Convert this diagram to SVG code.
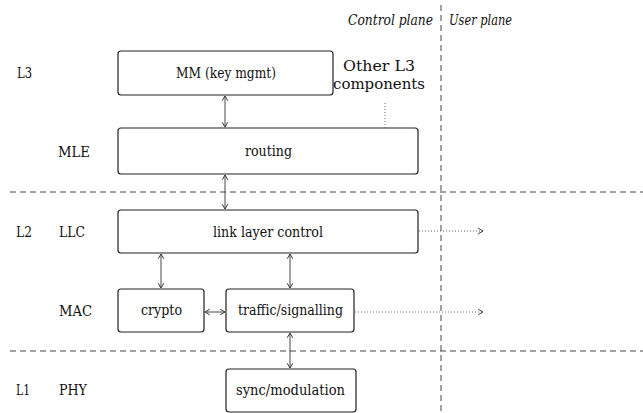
<svg xmlns="http://www.w3.org/2000/svg" width="643" height="413" viewBox="0 0 643 413">
<style>
text{font-family:'DejaVu Serif','Liberation Serif',serif;font-size:15.5px;fill:#111}
.box{fill:#fff;stroke:#222;stroke-width:1.2}
.sep{stroke:#444;stroke-width:1;stroke-dasharray:6,4;fill:none}
.ar{stroke:#333;stroke-width:0.9;fill:none;marker-start:url(#h);marker-end:url(#h)}
.dot{stroke:#555;stroke-width:0.9;fill:none;stroke-dasharray:1,2}
</style>
<defs>
<marker id="h" viewBox="0 0 10 10" refX="9" refY="5" markerWidth="8" markerHeight="8" markerUnits="userSpaceOnUse" orient="auto-start-reverse">
<path d="M3,1.5 L9,5 L3,8.5" fill="none" stroke="#333" stroke-width="1.2"/>
</marker>
</defs>
<g id="separators">
<line class="sep" x1="10" y1="192" x2="643" y2="192"/>
<line class="sep" x1="10" y1="351" x2="643" y2="351"/>
<line class="sep" x1="441" y1="5" x2="441" y2="413"/>
</g>
<g id="labels">
<text x="348" y="25" font-style="italic" textLength="85" lengthAdjust="spacingAndGlyphs">Control plane</text>
<text x="449" y="25" font-style="italic" textLength="63" lengthAdjust="spacingAndGlyphs">User plane</text>
<text x="17" y="78" textLength="15" lengthAdjust="spacingAndGlyphs">L3</text>
<text x="58" y="157" textLength="32" lengthAdjust="spacingAndGlyphs">MLE</text>
<text x="16" y="237" textLength="16" lengthAdjust="spacingAndGlyphs">L2</text>
<text x="59" y="237" textLength="26" lengthAdjust="spacingAndGlyphs">LLC</text>
<text x="59" y="316" textLength="33" lengthAdjust="spacingAndGlyphs">MAC</text>
<text x="16" y="395" textLength="14" lengthAdjust="spacingAndGlyphs">L1</text>
<text x="59" y="395" textLength="28" lengthAdjust="spacingAndGlyphs">PHY</text>
</g>
<g id="other-l3">
<text x="343" y="71" textLength="72" lengthAdjust="spacingAndGlyphs">Other L3</text>
<text x="333" y="89" textLength="92" lengthAdjust="spacingAndGlyphs">components</text>
</g>
<g id="mm"><rect class="box" x="118" y="51" width="215" height="44" rx="3"/><text x="176" y="78" textLength="100" lengthAdjust="spacingAndGlyphs">MM (key mgmt)</text></g>
<g id="routing"><rect class="box" x="118" y="128" width="300" height="46" rx="3"/><text x="245" y="156" textLength="47" lengthAdjust="spacingAndGlyphs">routing</text></g>
<g id="llc"><rect class="box" x="118" y="210" width="300" height="43" rx="3"/><text x="213" y="237" textLength="110" lengthAdjust="spacingAndGlyphs">link layer control</text></g>
<g id="crypto"><rect class="box" x="118" y="289" width="86" height="43" rx="3"/><text x="141" y="315" textLength="41" lengthAdjust="spacingAndGlyphs">crypto</text></g>
<g id="traffic"><rect class="box" x="226" y="289" width="128" height="43" rx="3"/><text x="238" y="315" textLength="105" lengthAdjust="spacingAndGlyphs">traffic/signalling</text></g>
<g id="sync"><rect class="box" x="226" y="369" width="130" height="43" rx="3"/><text x="236" y="395" textLength="109" lengthAdjust="spacingAndGlyphs">sync/modulation</text></g>
<g id="connectors">
<line class="ar" x1="225" y1="96" x2="225" y2="127"/>
<line class="ar" x1="225" y1="175" x2="225" y2="209"/>
<line class="ar" x1="161" y1="254" x2="161" y2="288"/>
<line class="ar" x1="290" y1="254" x2="290" y2="288"/>
<line class="ar" x1="205" y1="312" x2="225" y2="312"/>
<line class="ar" x1="290" y1="333" x2="290" y2="368"/>
<line class="dot" x1="385" y1="103" x2="385" y2="128"/>
<line class="dot" x1="419" y1="231" x2="483" y2="231" style="marker-end:url(#h)"/>
<line class="dot" x1="355" y1="312" x2="483" y2="312" style="marker-end:url(#h)"/>
</g>
</svg>
